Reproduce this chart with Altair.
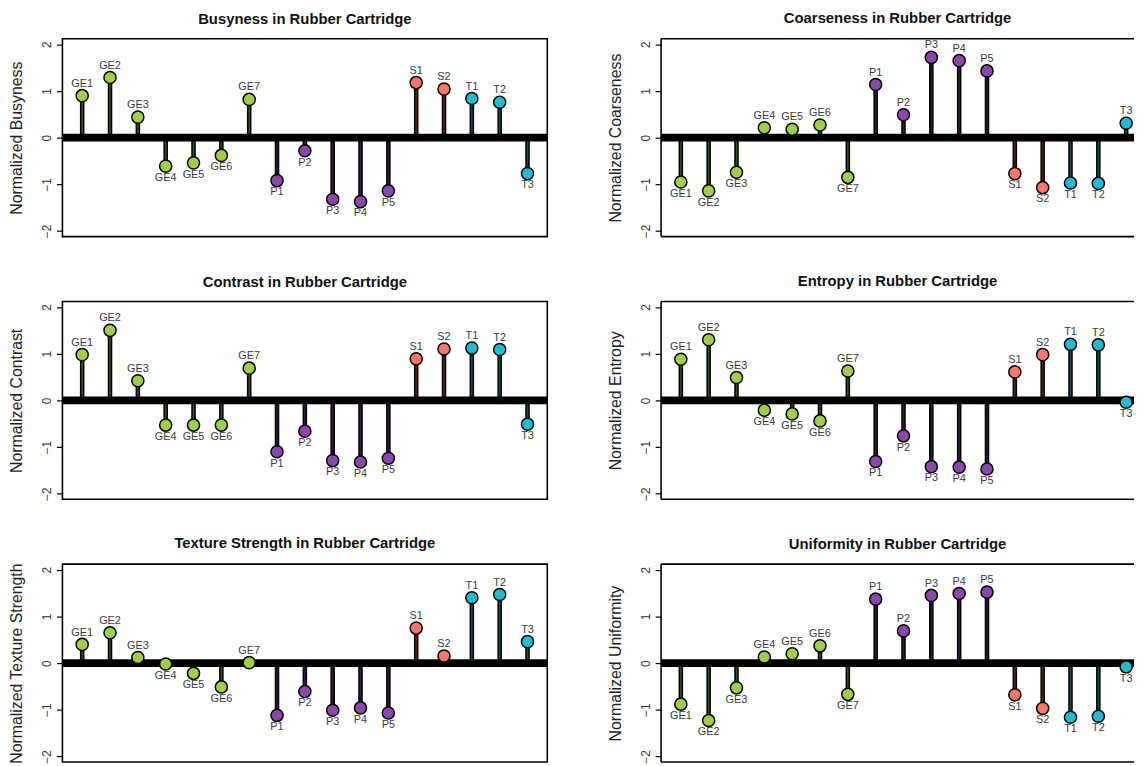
import altair as alt
import pandas as pd

samples = ["GE1", "GE2", "GE3", "GE4", "GE5", "GE6", "GE7",
           "P1", "P2", "P3", "P4", "P5", "S1", "S2", "T1", "T2", "T3"]
groups = ["GE"] * 7 + ["P"] * 5 + ["S"] * 2 + ["T"] * 3

busyness = [0.90, 1.29, 0.44, -0.61, -0.54, -0.38, 0.82,
            -0.92, -0.28, -1.32, -1.37, -1.14, 1.18, 1.04, 0.84, 0.76, -0.77]
coarseness = [-0.95, -1.14, -0.74, 0.21, 0.18, 0.27, -0.85,
              1.14, 0.49, 1.72, 1.65, 1.43, -0.77, -1.07, -0.97, -0.98, 0.31]
contrast = [0.98, 1.50, 0.42, -0.53, -0.53, -0.53, 0.69,
            -1.10, -0.66, -1.29, -1.32, -1.24, 0.89, 1.10, 1.12, 1.09, -0.51]
entropy = [0.88, 1.30, 0.49, -0.21, -0.29, -0.44, 0.63,
           -1.31, -0.76, -1.42, -1.43, -1.47, 0.61, 0.98, 1.20, 1.19, -0.04]
texture_strength = [0.40, 0.65, 0.12, -0.02, -0.22, -0.51, 0.01,
                    -1.12, -0.61, -1.01, -0.96, -1.07, 0.75, 0.15, 1.40, 1.47, 0.46]
uniformity = [-0.88, -1.23, -0.53, 0.13, 0.20, 0.37, -0.67,
              1.37, 0.69, 1.45, 1.49, 1.52, -0.68, -0.97, -1.16, -1.14, -0.08]

group_names = ["GE", "P", "S", "T"]
fill_colors = ["#9FCF4A", "#8A48A8", "#F6776B", "#22BCCF"]
stem_colors = ["#3F5E1A", "#3A1E4C", "#6B2A25", "#105F68"]

FONT = "Liberation Sans"
W_LEFT = 490
W_RIGHT = 478
H = 200
PAD = 0.71
STEP = W_LEFT / (len(samples) - 1 + 2 * PAD)
LEFT_OFFSET = (W_LEFT - STEP * (len(samples) - 1)) / 2


def panel(metric, values, right=False):
    df = pd.DataFrame({"sample": samples, "group": groups, "value": values})
    width = W_RIGHT if right else W_LEFT
    if right:
        pad = (width / STEP - (len(samples) - 1)) / 2
        align = LEFT_OFFSET / (width - STEP * (len(samples) - 1))
        xscale = alt.Scale(type="point", padding=pad, align=align)
    else:
        xscale = alt.Scale(type="point", padding=PAD)
    x = alt.X("sample:N", sort=samples, scale=xscale, axis=None)
    y = alt.Y("value:Q",
              scale=alt.Scale(domain=[-2.12, 2.12], nice=False, zero=False),
              axis=alt.Axis(values=[-2, -1, 0, 1, 2], format="d", domain=False, grid=False,
                            ticks=True, tickSize=6, tickColor="black", tickWidth=1.2,
                            labelAngle=270, labelAlign="center", labelBaseline="bottom",
                            labelPadding=3, labelFontSize=12, labelColor="#333333",
                            labelFont=FONT,
                            title=f"Normalized {metric}", titleFontSize=16,
                            titleFontWeight="normal", titleColor="#222222", titleFont=FONT,
                            titleAngle=270, titleX=-46, titleY=H / 2,
                            titleAlign="center", titleBaseline="middle"))
    base = alt.Chart(df).encode(x=x)
    stem_black = base.mark_rule(color="black", strokeWidth=4.6).encode(
        y=y, y2=alt.datum(0))
    stem_col = base.mark_rule(strokeWidth=1.6, opacity=0.85).encode(
        y=y, y2=alt.datum(0),
        color=alt.Color("group:N", scale=alt.Scale(domain=group_names, range=stem_colors),
                        legend=None))
    zero = alt.Chart(pd.DataFrame({"z": [0]})).mark_rule(
        color="black", strokeWidth=8).encode(y=alt.datum(0))
    pts = base.mark_point(filled=True, shape="circle", size=150, stroke="black",
                          strokeWidth=1.5, opacity=1).encode(
        y=y,
        fill=alt.Fill("group:N", scale=alt.Scale(domain=group_names, range=fill_colors),
                      legend=None))
    lab_pos = base.transform_filter("datum.value >= 0").mark_text(
        dy=-12, baseline="middle", fontSize=11, font=FONT, color="#3a3a3a").encode(
        y=y, text="sample:N")
    lab_neg = base.transform_filter("datum.value < 0").mark_text(
        dy=12, baseline="middle", fontSize=11, font=FONT, color="#3a3a3a").encode(
        y=y, text="sample:N")
    layers = [stem_black, stem_col, zero, pts, lab_pos, lab_neg]
    props = dict(
        width=width, height=H,
        title=alt.TitleParams(text=f"{metric} in Rubber Cartridge", fontSize=15,
                              fontWeight="bold", font=FONT, color="#111111", offset=12))
    if right:
        # open frame on the right side (panel runs off the page edge)
        fr = alt.Chart(pd.DataFrame({"z": [0]}))
        top = fr.mark_rule(color="black", strokeWidth=1.6).encode(
            x=alt.value(0), x2=alt.value(width), y=alt.value(0))
        bottom = fr.mark_rule(color="black", strokeWidth=1.6).encode(
            x=alt.value(0), x2=alt.value(width), y=alt.value(H))
        leftl = fr.mark_rule(color="black", strokeWidth=1.6).encode(
            x=alt.value(0), y=alt.value(0), y2=alt.value(H))
        layers = [top, bottom, leftl] + layers
        props["view"] = alt.ViewBackground(stroke="transparent")
    return alt.layer(*layers).properties(**props)


metrics = [
    ("Busyness", busyness), ("Coarseness", coarseness),
    ("Contrast", contrast), ("Entropy", entropy),
    ("Texture Strength", texture_strength), ("Uniformity", uniformity),
]

chart = alt.concat(
    *[panel(m, v, right=(i % 2 == 1)) for i, (m, v) in enumerate(metrics)],
    columns=2, spacing={"row": 65.5, "column": 115}, bounds="flush",
).properties(
    padding={"left": 0, "top": -2, "right": 0, "bottom": 0},
    background="white",
).configure_view(stroke="black", strokeWidth=1.6)

chart.save("out.html", embed_options={"renderer": "svg", "actions": False})
